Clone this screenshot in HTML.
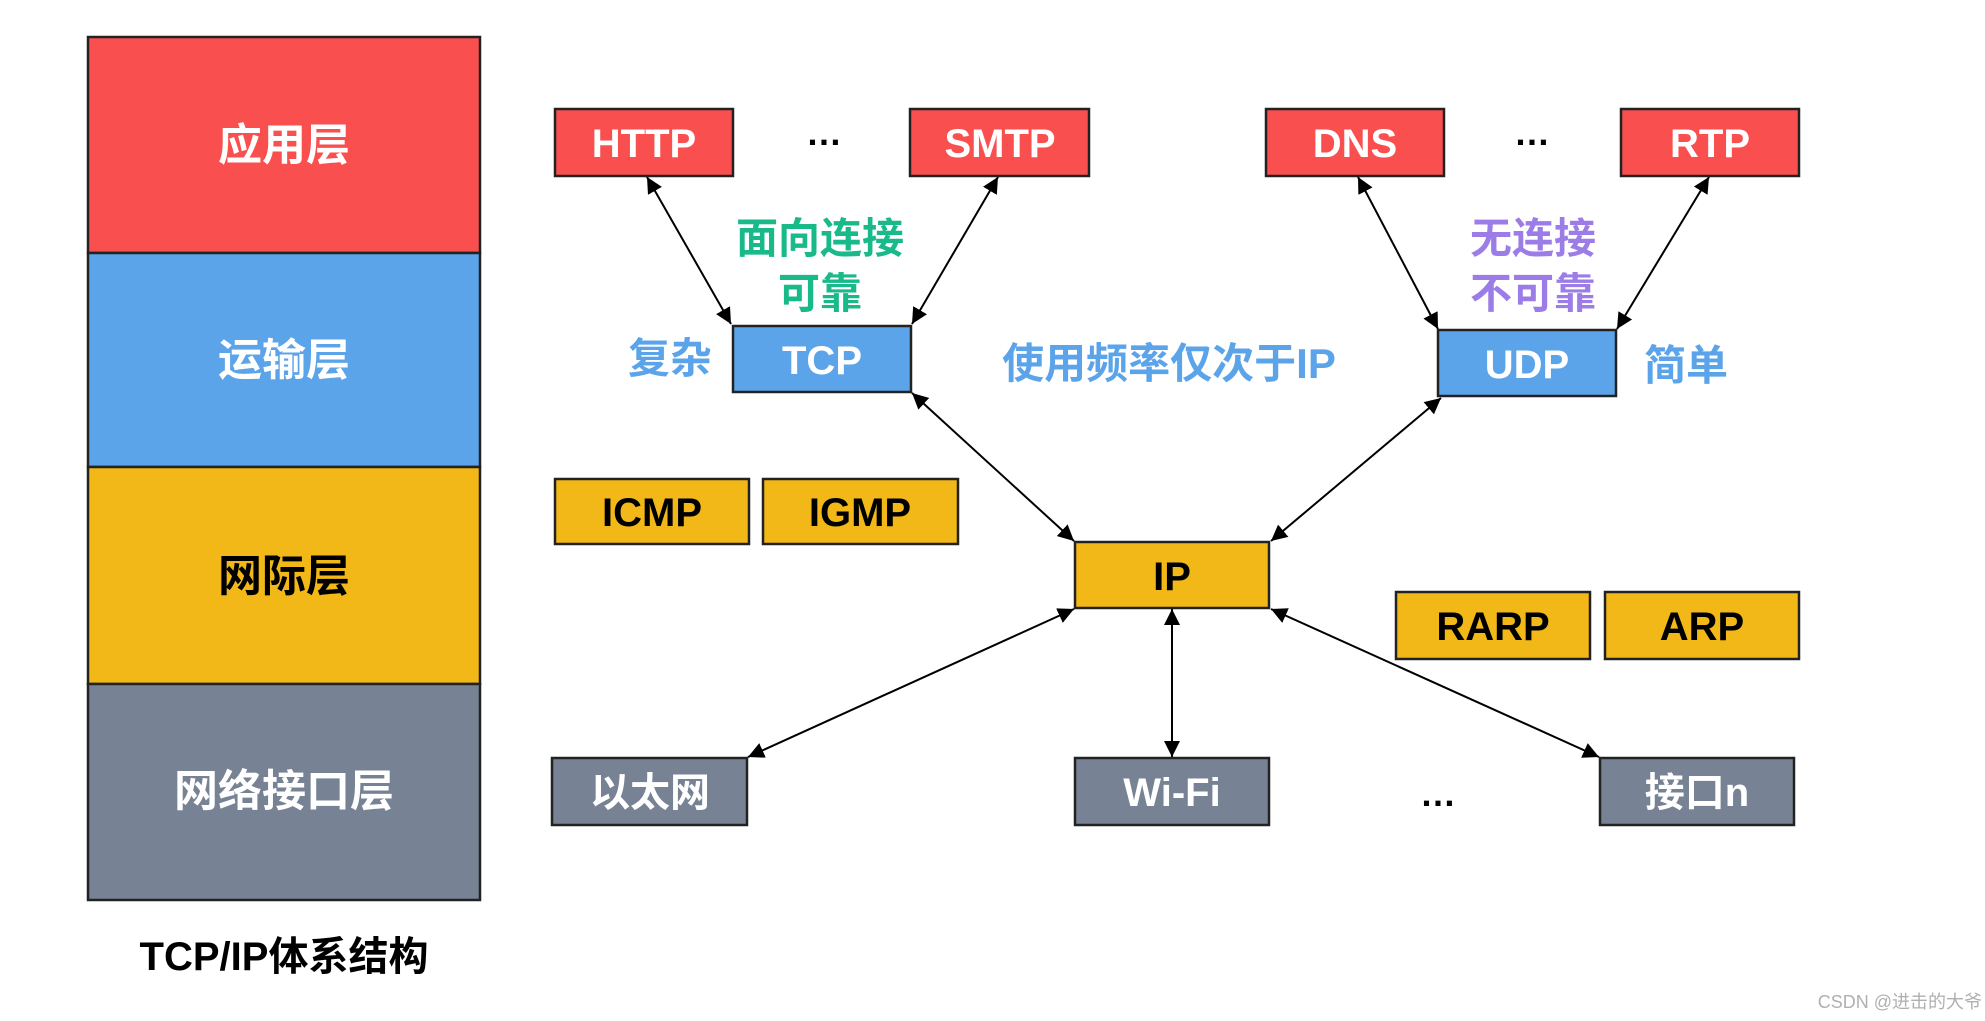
<!DOCTYPE html>
<html><head><meta charset="utf-8"><style>
html,body{margin:0;padding:0;background:#fff;}
svg{display:block;}
text{font-family:"Liberation Sans","Noto Sans CJK SC",sans-serif;font-weight:bold;}
</style></head><body>
<svg width="1985" height="1021" viewBox="0 0 1985 1021" xmlns="http://www.w3.org/2000/svg">
<defs>
<marker id="a" viewBox="0 0 10 10" refX="10" refY="5" markerWidth="16" markerHeight="16" markerUnits="userSpaceOnUse" orient="auto-start-reverse">
<path d="M0,0 L10,5 L0,10 z" fill="#000"/></marker>
</defs>
<!-- left stack -->
<rect x="88" y="37" width="392" height="216" fill="#f94f4f" stroke="#222" stroke-width="2.5"/>
<rect x="88" y="253" width="392" height="214" fill="#5ca4e9" stroke="#222" stroke-width="2.5"/>
<rect x="88" y="467" width="392" height="217" fill="#f2b818" stroke="#222" stroke-width="2.5"/>
<rect x="88" y="684" width="392" height="216" fill="#778394" stroke="#222" stroke-width="2.5"/>
<g font-size="44" text-anchor="middle">
<text x="284" y="160" fill="#fff">应用层</text>
<text x="284" y="375" fill="#fff">运输层</text>
<text x="284" y="591" fill="#000">网际层</text>
<text x="284" y="806" fill="#fff">网络接口层</text>
</g>
<text x="284" y="970" font-size="40" text-anchor="middle" fill="#000">TCP/IP体系结构</text>

<!-- arrows -->
<g stroke="#000" stroke-width="2" marker-start="url(#a)" marker-end="url(#a)">
<line x1="647" y1="177" x2="731" y2="324"/>
<line x1="998" y1="177" x2="912" y2="324"/>
<line x1="1358" y1="177" x2="1438" y2="329"/>
<line x1="1709" y1="177" x2="1617" y2="329"/>
<line x1="912" y1="393" x2="1074" y2="541"/>
<line x1="1441" y1="398" x2="1271" y2="541"/>
<line x1="1074" y1="609" x2="748" y2="757"/>
<line x1="1172" y1="609" x2="1172" y2="757"/>
<line x1="1271" y1="609" x2="1599" y2="757"/>
</g>

<g stroke="#222" stroke-width="2.5">
<rect x="555" y="109" width="178" height="67" fill="#f94f4f"/>
<rect x="910" y="109" width="179" height="67" fill="#f94f4f"/>
<rect x="1266" y="109" width="178" height="67" fill="#f94f4f"/>
<rect x="1621" y="109" width="178" height="67" fill="#f94f4f"/>
<rect x="733" y="326" width="178" height="66" fill="#5ca4e9"/>
<rect x="1438" y="330" width="178" height="66" fill="#5ca4e9"/>
<rect x="555" y="479" width="194" height="65" fill="#f2b818"/>
<rect x="763" y="479" width="195" height="65" fill="#f2b818"/>
<rect x="1075" y="542" width="194" height="66" fill="#f2b818"/>
<rect x="1396" y="592" width="194" height="67" fill="#f2b818"/>
<rect x="1605" y="592" width="194" height="67" fill="#f2b818"/>
<rect x="552" y="758" width="195" height="67" fill="#778394"/>
<rect x="1075" y="758" width="194" height="67" fill="#778394"/>
<rect x="1600" y="758" width="194" height="67" fill="#778394"/>
</g>
<g font-size="40" text-anchor="middle">
<text x="644" y="157" fill="#fff">HTTP</text>
<text x="1000" y="157" fill="#fff">SMTP</text>
<text x="1355" y="157" fill="#fff">DNS</text>
<text x="1710" y="157" fill="#fff">RTP</text>
<text x="822" y="374" fill="#fff">TCP</text>
<text x="1527" y="378" fill="#fff">UDP</text>
<text x="652" y="526" fill="#000">ICMP</text>
<text x="860" y="526" fill="#000">IGMP</text>
<text x="1172" y="590" fill="#000">IP</text>
<text x="1493" y="640" fill="#000">RARP</text>
<text x="1702" y="640" fill="#000">ARP</text>
<text x="650" y="806" fill="#fff">以太网</text>
<text x="1172" y="806" fill="#fff">Wi-Fi</text>
<text x="1697" y="806" fill="#fff">接口n</text>
</g>
<g font-size="36" text-anchor="middle" fill="#000">
<text x="824" y="145">…</text>
<text x="1532" y="145">…</text>
<text x="1438" y="806">…</text>
</g>
<g font-size="42" text-anchor="middle">
<text x="820" y="253" fill="#19b98a">面向连接</text>
<text x="820" y="308" fill="#19b98a">可靠</text>
<text x="1533" y="253" fill="#9c7de8">无连接</text>
<text x="1533" y="308" fill="#9c7de8">不可靠</text>
<text x="670" y="373" fill="#5ca4e9">复杂</text>
<text x="1169" y="378" fill="#5ca4e9">使用频率仅次于IP</text>
<text x="1686" y="380" fill="#5ca4e9">简单</text>
</g>
<text x="1982" y="1008" font-size="18" font-weight="normal" text-anchor="end" fill="#b0b0b0" style="font-weight:normal">CSDN @进击的大爷</text>
</svg>
</body></html>
